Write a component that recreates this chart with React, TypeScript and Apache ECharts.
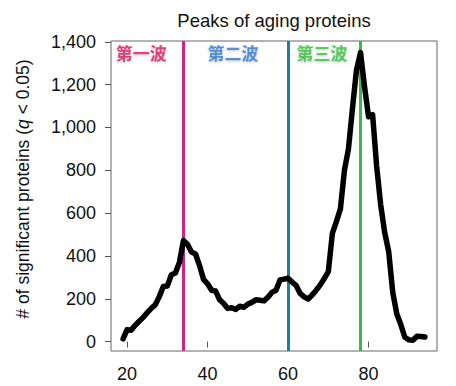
import React, { useEffect, useRef } from "react";
import * as echarts from "echarts";

const ages = [19,20,21,22,23,24,25,26,27,28,29,30,31,32,33,34,35,36,37,38,39,40,41,42,43,44,45,46,47,48,49,50,51,52,53,54,55,56,57,58,59,60,61,62,63,64,65,66,67,68,69,70,71,72,73,74,75,76,77,78,79,80,81,82,83,84,85,86,87,88,89,90,91,92,93,94];
const counts = [13,56,53,76,95,113,135,155,172,210,257,260,312,320,370,472,455,418,409,355,290,270,240,236,195,178,155,158,150,165,160,175,183,195,193,190,207,230,240,288,292,296,278,262,225,209,199,218,240,265,295,327,505,560,620,800,900,1090,1269,1350,1190,1050,1060,820,640,510,420,230,130,80,20,8,6,25,24,21];
const xTicks = [20, 40, 60, 80];
const yTicks = [0, 200, 400, 600, 800, 1000, 1200, 1400];
const waveAges = [34, 60, 78];
const waveColors = ["#d4208e", "#1b7fa0", "#3cb84a"];
const waveLabels = ["第一波", "第二波", "第三波"];
const waveLabelColors = ["#d81b60", "#2f78d0", "#33c13a"];
const waveLabelX = [23.5, 46.3, 68.4];
const waveLabelY = 1349;
const title = "Peaks of aging proteins";

export default function App() {
  const ref = useRef<HTMLDivElement>(null);
  useEffect(() => {
    if (!ref.current) return;
    const chart = echarts.init(ref.current, null, { renderer: "svg" });
    const font = "'Liberation Sans', Arial, Helvetica, sans-serif";
    chart.setOption({
      animation: false,
      backgroundColor: "#fff",
      textStyle: { fontFamily: font },
      graphic: [
        {
          type: "text",
          x: 274,
          y: 20,
          style: {
            text: title,
            align: "center",
            verticalAlign: "middle",
            fontSize: 18.5,
            fontFamily: font,
            fill: "#111",
          },
        },
      ],
      grid: {
        left: 111,
        top: 41,
        width: 326,
        height: 310,
        show: true,
        borderColor: "#666",
        borderWidth: 1,
        backgroundColor: "transparent",
      },
      xAxis: {
        type: "value",
        min: 16,
        max: 97,
        splitLine: { show: false },
        axisLine: { show: false },
        axisTick: { show: true, length: 6, lineStyle: { color: "#555" }, customValues: xTicks },
        axisLabel: {
          customValues: xTicks,
          fontSize: 18,
          color: "#111",
          margin: 14,
          fontFamily: font,
        },
      },
      yAxis: {
        type: "value",
        min: -44,
        max: 1404,
        splitLine: { show: false },
        axisLine: { show: false },
        axisTick: { show: true, length: 6, lineStyle: { color: "#555" }, customValues: yTicks },
        axisLabel: {
          customValues: yTicks,
          fontSize: 18,
          color: "#111",
          margin: 15,
          fontFamily: font,
          formatter: (v: number) => v.toLocaleString("en-US"),
        },
        name: "# of significant proteins ({q|q} < 0.05)",
        nameLocation: "middle",
        nameGap: 79,
        nameTextStyle: {
          fontSize: 17.5,
          color: "#111",
          fontFamily: font,
          padding: [0, 0, 0, 14],
          rich: { q: { fontStyle: "italic", fontSize: 17.5, color: "#111", fontFamily: font } },
        },
      },
      series: [
        {
          type: "line",
          data: ages.map((a, i) => [a, counts[i]]),
          symbol: "none",
          z: 3,
          lineStyle: { color: "#000", width: 5.5, join: "round", cap: "round" },
          markLine: {
            silent: true,
            symbol: "none",
            label: { show: false },
            z: 2,
            data: waveAges.map((a, i) => ({
              xAxis: a,
              lineStyle: { color: waveColors[i], width: 3, type: "solid" },
            })),
          },
        },
        {
          type: "scatter",
          symbolSize: 0,
          z: 4,
          data: waveLabels.map((t, i) => ({
            value: [waveLabelX[i], waveLabelY],
            label: {
              show: true,
              position: "inside",
              formatter: t,
              color: waveLabelColors[i],
              fontSize: 17,
              fontWeight: "bold",
              fontFamily: "'Noto Sans CJK SC', sans-serif",
              textShadowColor: "rgba(0,0,0,0.3)",
              textShadowBlur: 3,
              textShadowOffsetY: 1,
            },
          })),
        },
      ],
    });
    return () => chart.dispose();
  }, []);
  return (
    <div
      ref={ref}
      style={{ position: "fixed", left: 0, top: 0, width: 456, height: 386 }}
    />
  );
}
